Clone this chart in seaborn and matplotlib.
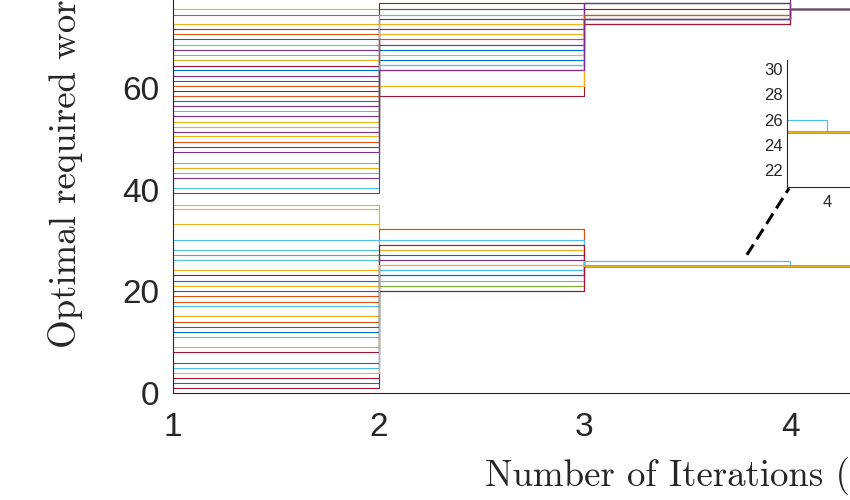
import matplotlib
matplotlib.use("Agg")
import matplotlib.pyplot as plt
import seaborn as sns
import pandas as pd

# ---------------- data ----------------
iterations = [1, 2, 3, 4, 5, 6]

# upper group of agents (descending start value)
upper_iter1 = [80.0, 78.0, 75.5, 74.5, 72.6, 71.6, 70.6, 69.6, 68.6, 67.5,
               66.5, 65.5, 64.4, 63.5, 62.5, 61.5, 60.5, 59.5, 58.5, 57.5,
               56.5, 55.5, 54.5, 53.4, 52.4, 51.4, 50.5, 49.5, 48.4, 47.4,
               45.2, 44.2, 43.3, 42.3, 40.3, 39.3]
upper_iter2 = [78.5, 77.7, 76.7, 75.6, 74.5, 73.6, 72.6, 67.5, 74.5, 71.6,
               64.6, 70.6, 76.7, 75.6, 73.6, 67.5, 69.6, 58.5, 60.5, 65.5,
               71.6, 74.5, 68.6, 72.6, 70.6, 68.6, 66.5, 69.6, 63.5, 63.5,
               64.6, 60.5, 64.6, 63.5, 64.6, 63.5]
upper_iter3 = [78.5, 77.7, 76.7, 75.6, 74.5, 73.6, 72.6, 72.6, 72.6, 76.7,
               72.6, 72.6, 72.6, 76.7, 73.6, 76.7, 74.5, 75.6, 76.7, 76.7,
               76.7, 74.5, 73.6, 74.5, 74.5, 73.6, 74.5, 74.5, 73.6, 73.6,
               73.6, 73.6, 73.6, 73.6, 73.6, 73.6]
upper_iter4 = [75.6] * 36

# lower group of agents
lower_iter1 = [37.1, 36.2, 33.2, 30.1, 28.2, 27.2, 26.1, 24.2, 23.2, 22.0,
               21.1, 20.1, 19.1, 18.0, 17.1, 15.1, 14.0, 13.0, 12.0, 11.0,
               9.1, 8.1, 5.9, 4.9, 3.0, 2.0, 1.0, 3.9]
lower_iter2 = [32.2, 32.2, 30.1, 28.1, 27.1, 21.1, 26.1, 25.1, 24.2, 23.2,
               22.0, 26.1, 32.2, 29.1, 30.1, 28.1, 25.1, 27.1, 23.2, 24.2,
               20.1, 29.1, 23.2, 22.0, 20.1, 20.1, 20.1, 25.1]
lower_iter3 = [25.0, 25.0, 25.0, 25.0, 25.0, 25.0, 25.0, 25.0, 25.0, 25.0,
               25.0, 25.0, 25.0, 25.0, 26.0, 25.0, 25.0, 25.0, 25.0, 25.0,
               25.0, 25.0, 25.0, 26.0, 25.0, 25.0, 25.0, 25.0]
lower_iter4 = [25.0] * 28

# ---------------- styles ----------------
M = {"B": "#0072BD", "O": "#D95319", "Y": "#EDB120", "P": "#7E2F8E",
     "G": "#77AC30", "C": "#4DBEEE", "R": "#A2142F"}
upper_color_keys = ["R", "P", "Y", "O", "Y", "P", "O", "B", "C", "P",
                    "C", "Y", "R", "B", "P", "B", "O", "R", "O", "B",
                    "P", "C", "P", "Y", "Y", "P", "Y", "O", "P", "P",
                    "C", "Y", "C", "P", "C", "P"]
lower_color_keys = ["Y", "Y", "Y", "C", "C", "G", "C", "Y", "R", "B",
                    "Y", "P", "O", "O", "C", "Y", "O", "B", "B", "C",
                    "Y", "R", "B", "C", "R", "B", "R", "Y"]

# ---------------- build long table ----------------
cols_upper = [upper_iter1, upper_iter2, upper_iter3, upper_iter4, upper_iter4, upper_iter4]
cols_lower = [lower_iter1, lower_iter2, lower_iter3, lower_iter4, lower_iter4, lower_iter4]
rows = []
names = []
colors = []
k = 0
for cols, keys in ((cols_upper, upper_color_keys), (cols_lower, lower_color_keys)):
    for i in range(len(cols[0])):
        name = f"s{k:02d}"
        names.append(name)
        colors.append(M[keys[i]])
        for it, col in zip(iterations, cols):
            rows.append({"series": name, "iteration": it, "value": col[i]})
        k += 1
df = pd.DataFrame(rows)

# ---------------- figure ----------------
sns.set_style("white")
plt.rcParams["font.family"] = ["Liberation Sans", "DejaVu Sans"]
axc = "#262626"
LW = 0.78

fig = plt.figure(figsize=(8.5, 5), dpi=100)
fig.patch.set_facecolor("white")
W, H = 850.0, 500.0
x0, ybot = 173.0, 393.0
px_x = 205.7
px_y = 5.08
ax = fig.add_axes([x0 / W, (H - ybot) / H, 5 * px_x / W, 100 * px_y / H])

sns.lineplot(data=df, x="iteration", y="value", hue="series", hue_order=names,
             palette=colors, estimator=None, drawstyle="steps-post",
             linewidth=LW, legend=False, ax=ax)
ax.set_xlim(1, 6)
ax.set_ylim(0, 100)
ax.set_xticks([1, 2, 3, 4, 5, 6])
ax.set_yticks([0, 20, 40, 60, 80, 100])
ax.tick_params(direction="in", length=5, width=0.8, colors=axc, labelsize=24)
ax.tick_params(axis="x", pad=14)
ax.tick_params(axis="y", pad=10)
for s in ax.spines.values():
    s.set_color(axc)
    s.set_linewidth(0.8)
ax.set_xlabel("Number of Iterations (k)", fontfamily="cmr10", fontsize=26.5, color=axc)
ax.set_ylabel("Optimal required workers", fontfamily="cmr10", fontsize=26.5, color=axc)
ax.xaxis.set_label_coords(0.497, -0.126)
ax.yaxis.set_label_coords(-0.0875, 0.496)

# dashed connector toward the inset
conn_x = [3.79, 3.995]
conn_y = [27.2, 40.3]
ax.plot(conn_x, conn_y, color="black", lw=2.2, ls=(0, (4, 2)), clip_on=False)

# ---------------- inset ----------------
ins_left, ins_bottom, ins_top = 787.0, 186.7, 60.0
axins = fig.add_axes([ins_left / W, (H - ins_bottom) / H, 307.0 / W, (ins_bottom - ins_top) / H])
axins.set_facecolor("white")
sns.lineplot(data=df, x="iteration", y="value", hue="series", hue_order=names,
             palette=colors, estimator=None, drawstyle="steps-post",
             linewidth=LW, legend=False, ax=axins)
axins.set_xlim(3.7, 6)
axins.set_ylim(20.7, 30.7)
axins.set_xticks([4, 5, 6])
axins.set_yticks([22, 24, 26, 28, 30])
axins.set_xlabel("")
axins.set_ylabel("")
axins.tick_params(direction="in", length=3, width=0.7, colors=axc, labelsize=12)
axins.tick_params(axis="y", pad=3)
axins.tick_params(axis="x", pad=6)
axins.spines["top"].set_visible(False)
axins.spines["right"].set_visible(False)
for s in ("left", "bottom"):
    axins.spines[s].set_color(axc)
    axins.spines[s].set_linewidth(0.8)

fig.savefig("out.png", dpi=100, facecolor="white")
